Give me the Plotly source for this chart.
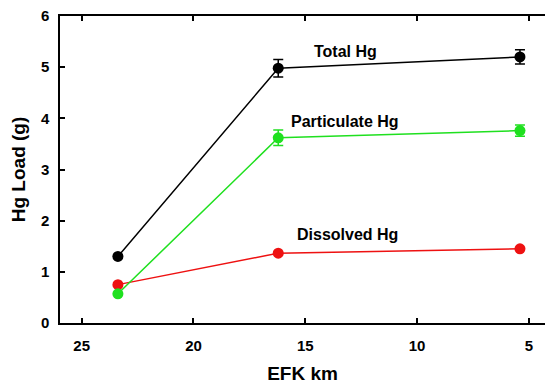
import plotly.graph_objects as go

# EFK river kilometre of each sampling site
efk_km = [23.38, 16.21, 5.40]

# Mercury loads (g) and their standard errors
total_hg = [1.30, 4.98, 5.20]
total_err = [None, 0.17, 0.14]

particulate_hg = [0.57, 3.62, 3.76]
particulate_err = [None, 0.15, 0.11]

dissolved_hg = [0.75, 1.365, 1.45]
dissolved_err = [None, None, None]

series_names = ["Total Hg", "Particulate Hg", "Dissolved Hg"]
x_ticks = [25, 20, 15, 10, 5]
y_ticks = [0, 1, 2, 3, 4, 5, 6]

BLACK = "#000000"
GREEN = "#1fe01f"
RED = "#ee1111"
FONT = "Liberation Sans, Arial, sans-serif"

fig = go.Figure()


def add_series(y, err, color, name):
    fig.add_trace(go.Scatter(
        x=efk_km, y=y, name=name, mode="lines+markers",
        line=dict(color=color, width=1.5),
        marker=dict(color=color, size=11),
        error_y=dict(type="data", array=err, visible=True,
                     color=color, thickness=1.5, width=5),
        showlegend=False,
    ))


add_series(dissolved_hg, dissolved_err, RED, series_names[2])
add_series(particulate_hg, particulate_err, GREEN, series_names[1])
add_series(total_hg, total_err, BLACK, series_names[0])

# Series labels placed beside the curves
labels = [
    (series_names[0], 13.18, 5.30),
    (series_names[1], 13.21, 3.93),
    (series_names[2], 13.11, 1.72),
]
for text, lx, ly in labels:
    fig.add_annotation(x=lx, y=ly, text=text, showarrow=False,
                       xanchor="center", yanchor="middle",
                       font=dict(family=FONT, size=16, color="black",
                                 weight="bold"))

fig.update_layout(
    width=545, height=385,
    margin=dict(l=60, r=0, t=16, b=62),
    paper_bgcolor="white", plot_bgcolor="white",
    font=dict(family=FONT, color="black"),
)

fig.update_xaxes(
    range=[25.97, 4.28], tickvals=x_ticks, ticktext=[str(v) for v in x_ticks],
    ticks="inside", ticklen=5, tickwidth=1.5, tickcolor="black",
    showline=True, linecolor="black", linewidth=1.5, mirror="ticks",
    showgrid=False, zeroline=False,
    tickfont=dict(family=FONT, size=15, weight="bold"),
    ticklabelstandoff=8,
    title=dict(text="EFK km", standoff=14,
               font=dict(family=FONT, size=19, weight="bold")),
)
fig.update_yaxes(
    range=[0, 6], tickvals=y_ticks,
    ticks="inside", ticklen=5, tickwidth=1.5, tickcolor="black",
    showline=True, linecolor="black", linewidth=1.5, mirror=False,
    showgrid=False, zeroline=False,
    tickfont=dict(family=FONT, size=15, weight="bold"),
    ticklabelstandoff=6,
    title=dict(text="Hg Load (g)", standoff=10,
               font=dict(family=FONT, size=19, weight="bold")),
)

fig.write_html("out.html")
